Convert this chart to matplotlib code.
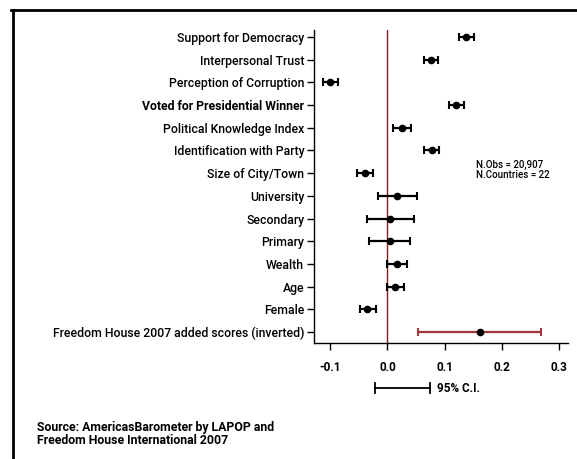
import matplotlib
matplotlib.use("Agg")
import matplotlib.pyplot as plt
from matplotlib.lines import Line2D

plt.rcParams['font.family'] = ['Roboto', 'Liberation Sans', 'DejaVu Sans']

# Coefficients and 95% confidence bounds, listed top to bottom
labels = ["Support for Democracy", "Interpersonal Trust", "Perception of Corruption",
          "Voted for Presidential Winner", "Political Knowledge Index",
          "Identification with Party", "Size of City/Town", "University", "Secondary",
          "Primary", "Wealth", "Age", "Female",
          "Freedom House 2007 added scores (inverted)"]
coef = [0.138, 0.076, -0.100, 0.120, 0.025, 0.078, -0.039, 0.016, 0.005, 0.004,
        0.016, 0.014, -0.035, 0.162]
ci_low = [0.125, 0.063, -0.113, 0.107, 0.009, 0.064, -0.054, -0.017, -0.035, -0.033,
          -0.001, -0.001, -0.048, 0.054]
ci_high = [0.152, 0.089, -0.086, 0.134, 0.041, 0.090, -0.026, 0.051, 0.046, 0.040,
           0.034, 0.029, -0.020, 0.269]
xticks = [-0.1, 0.0, 0.1, 0.2, 0.3]
xticklabels = ["-0.1", "0.0", "0.1", "0.2", "0.3"]

red = "#a3353c"
n = len(labels)
ypos = [n - 1 - i for i in range(n)]

fig = plt.figure(figsize=(5.77, 4.59), dpi=100)
ax = fig.add_axes([0.544, 0.2534, 0.44, 0.681])

ax.axvline(0, color="#8b1a1a", lw=1.0, zorder=1)

for i in range(n):
    c = red if i == n - 1 else "black"
    ax.errorbar(coef[i], ypos[i],
                xerr=[[coef[i] - ci_low[i]], [ci_high[i] - coef[i]]],
                fmt="o", color="black", ecolor=c, ms=4.5, elinewidth=1.6,
                capsize=3, capthick=1.5, zorder=3)

ax.set_xlim(-0.1285, 0.315)
ax.set_ylim(-0.47, n - 0.7)
ax.set_yticks(ypos)
ax.set_yticklabels(labels, fontsize=8.8, fontweight="medium")
for i, t in enumerate(ax.get_yticklabels()):
    if i == 3:
        t.set_fontweight("bold")
    if i == n - 1:
        t.set_color(red)
ax.set_xticks(xticks)
ax.set_xticklabels(xticklabels, fontsize=8.5, fontweight="bold")
ax.tick_params(axis="both", direction="out", length=5, width=1, colors="black")
ax.tick_params(axis="y", pad=2)
ax.tick_params(axis="x", pad=8)
for s in ["top", "right"]:
    ax.spines[s].set_visible(False)
for s in ["left", "bottom"]:
    ax.spines[s].set_linewidth(1.0)

ax.text(0.155, ypos[6] + 0.14, "N.Obs = 20,907\nN.Countries = 22", fontsize=7,
        fontweight="medium", va="center", ha="left", linespacing=1.0)

# 95% C.I. key below the axis
fig.add_artist(Line2D([375 / 577, 429.5 / 577], [1 - 388 / 459] * 2, color="black", lw=1.3))
for xe in [375 / 577, 429.5 / 577]:
    fig.add_artist(Line2D([xe, xe], [1 - 383 / 459, 1 - 393 / 459], color="black", lw=1.3))
fig.text(437 / 577, 1 - 388 / 459, "95% C.I.", fontsize=8.5, fontweight="bold", va="center")

fig.text(37 / 577, 1 - 434.5 / 459,
         "Source: AmericasBarometer by LAPOP and\nFreedom House International 2007",
         fontsize=8.8, fontweight="bold", va="center", linespacing=1.0)

# outer frame (left and top edges)
fig.add_artist(Line2D([12.5 / 577, 12.5 / 577], [0, 1 - 9.5 / 459], color="black", lw=2))
fig.add_artist(Line2D([11.5 / 577, 1], [1 - 9.5 / 459] * 2, color="black", lw=2))

fig.savefig("out.png", dpi=100)
